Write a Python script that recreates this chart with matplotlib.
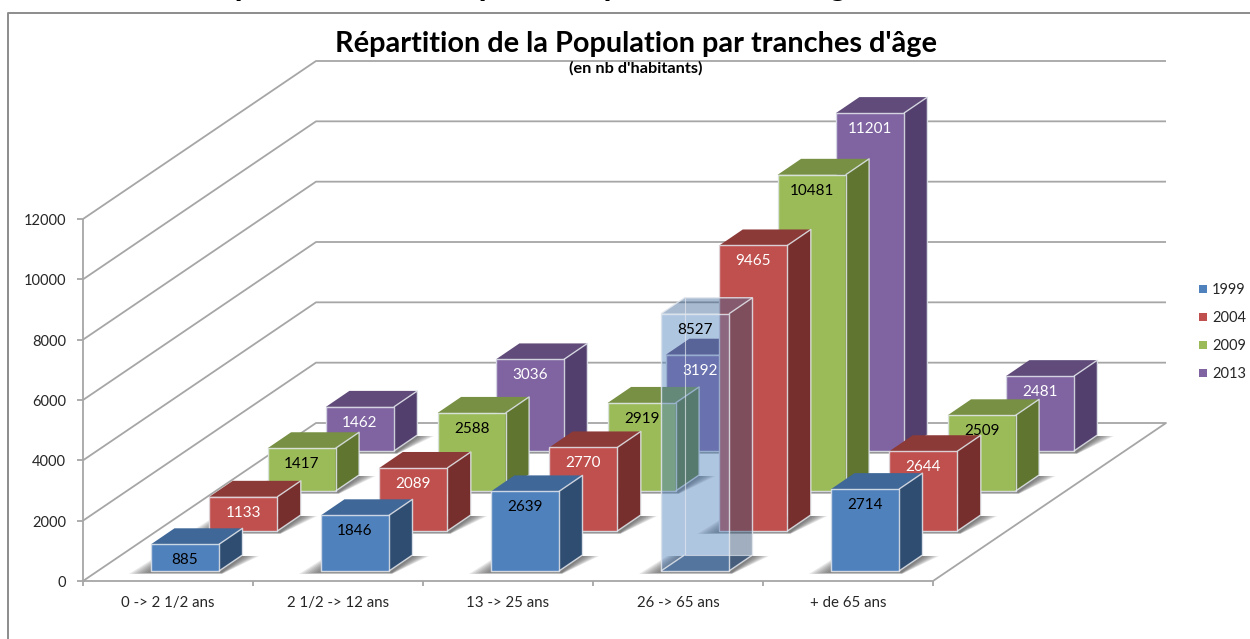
import matplotlib
matplotlib.use('Agg')
import matplotlib.pyplot as plt

# our data to plot
categories = ['0 -> 2 1/2 ans', '2 1/2 -> 12 ans', '13 -> 25 ans', '26 -> 65 ans', '+ de 65 ans']
years = ['1999', '2004', '2009', '2013']
values_1999 = [885, 1846, 2639, 8527, 2714]
values_2004 = [1133, 2089, 2770, 9465, 2644]
values_2009 = [1417, 2588, 2919, 10481, 2509]
values_2013 = [1462, 3036, 3192, 11201, 2481]
y_ticks = [0, 2000, 4000, 6000, 8000, 10000, 12000]

series = [values_1999, values_2004, values_2009, values_2013]

# front, top, side colours per year, then colour of the number
front_colors = ['#4F81BD', '#C0504D', '#9BBB59', '#8064A2']
top_colors = ['#3F6797', '#8C3A38', '#779043', '#604B7A']
side_colors = ['#2F4D71', '#772F2D', '#5F7530', '#523F6D']
label_colors = ['black', 'white', 'black', 'white']

plt.rcParams['font.family'] = ['Lato', 'DejaVu Sans']

# the axes are in picture pixels, the oblique projection sits on top of them
fig = plt.figure(figsize=(12.5, 6.39), dpi=100)
ax = fig.add_axes([0, 0, 1, 1])
ax.set_xlim(0, 1250)
ax.set_ylim(639, 0)
ax.axis('off')

X0, Y0 = 83, 581
CAT_W = 170
DEPTH_X, DEPTH_Y = 233, 158
PX_PER_UNIT = 362 / 12000
SLOT_X, SLOT_Y = 58.3, 40
BAR_W, SIDE_X, SIDE_Y = 68, 23.5, 16
GRID = '#A6A6A6'

# painter's order: everything gets a higher zorder than the thing before it
z = [1]


def next_z():
    z[0] += 1
    return z[0]


def line(xs, ys, lw=1.3, color=GRID, alpha=1.0):
    ax.plot(xs, ys, color=color, lw=lw, alpha=alpha, solid_capstyle='butt', zorder=next_z())


def face(xs, ys, color, alpha=1.0):
    ax.fill(xs, ys, color=color, alpha=alpha, lw=0, zorder=next_z())


# frame round the chart
line([8, 8, 1250], [639, 13, 13], lw=1.4, color='#8C8C8C')

# walls and floor
for t in y_ticks:
    y = Y0 - t * PX_PER_UNIT
    if t > 0:
        line([X0, X0 + DEPTH_X, X0 + DEPTH_X + CAT_W * 5], [y, y - DEPTH_Y, y - DEPTH_Y])
    line([X0 - 6, X0], [y, y])
    ax.text(66, y + 2, str(t), ha='right', va='center', fontsize=10.5, color='#262626', zorder=1000)
line([X0, X0], [Y0, Y0 - 12000 * PX_PER_UNIT])
line([X0, X0 + DEPTH_X, X0 + DEPTH_X + CAT_W * 5, X0 + CAT_W * 5, X0, X0],
     [Y0, Y0 - DEPTH_Y, Y0 - DEPTH_Y, Y0, Y0, Y0])
for i in range(len(categories) + 1):
    line([X0 + CAT_W * i] * 2, [Y0, Y0 + 5])
for i, name in enumerate(categories):
    ax.text(X0 + CAT_W * (i + 0.5), 603, name, ha='center', va='center', fontsize=10.8, color='#262626', zorder=1000)


def draw_shadow(x, y):
    # soft shadow on the floor, stacked shapes getting smaller
    for k in range(8):
        grow = 22 - k * 2.9
        face([x - grow, x + BAR_W + 3, x + BAR_W + SIDE_X + grow * 0.75, x + SIDE_X - 4 - grow * 0.6],
             [y + 3 - k * 0.2, y + 3 - k * 0.2, y - SIDE_Y + 1, y - SIDE_Y + 1],
             '#404040', alpha=0.12)


def draw_bar(x, y, h, s, alpha=1.0):
    top = y - h
    sx, sy = SIDE_X, SIDE_Y
    if alpha < 1:
        # the see-through bar also shows its floor
        face([x, x + BAR_W, x + BAR_W + sx, x + sx], [y, y, y - sy, y - sy], '#3F5F88', alpha=0.6)
    face([x, x + BAR_W, x + BAR_W, x], [top, top, y, y], front_colors[s], alpha)
    face([x + BAR_W, x + BAR_W + sx, x + BAR_W + sx, x + BAR_W], [top, top - sy, y - sy, y], side_colors[s], alpha)
    face([x, x + sx, x + BAR_W + sx, x + BAR_W], [top, top - sy, top - sy, top], top_colors[s], alpha)
    edge = '#E4E8EE'
    line([x, x + BAR_W, x + BAR_W, x, x], [top, top, y, y, top], lw=1, color=edge, alpha=0.85)
    line([x + BAR_W, x + BAR_W + sx, x + BAR_W + sx, x + BAR_W], [top, top - sy, y - sy, y], lw=1, color=edge, alpha=0.85)
    if alpha < 1:
        line([x, x + sx, x + BAR_W + sx], [top, top - sy, top - sy], lw=1, color=edge, alpha=0.85)
        line([x + sx, x + sx, x + BAR_W + sx], [top - sy, y - sy, y - sy], lw=0.8, color=edge, alpha=0.7)
        line([x, x + sx], [y, y - sy], lw=1, color=edge, alpha=0.85)


# paint from the back row to the front row
for s in range(len(series) - 1, -1, -1):
    for c, value in enumerate(series[s]):
        x = X0 + CAT_W * c + 68 + SLOT_X * s
        y = Y0 - 10 - SLOT_Y * s
        h = value * PX_PER_UNIT
        # the 26 -> 65 ans bar of 1999 is see-through in the original
        see_through = s == 0 and c == 3
        draw_shadow(x, y)
        draw_bar(x, y, h, s, alpha=0.45 if see_through else 1.0)

# the numbers stay on top of every bar
for s in range(len(series)):
    for c, value in enumerate(series[s]):
        x = X0 + CAT_W * c + 68 + SLOT_X * s
        y = Y0 - 10 - SLOT_Y * s
        ax.text(x + BAR_W / 2, y - value * PX_PER_UNIT + 16, str(value), ha='center', va='center',
                fontsize=11, color=label_colors[s], zorder=1000)

# legend
for s, year in enumerate(years):
    y = 289 + 28 * s
    face([1199, 1207, 1207, 1199], [y - 4, y - 4, y + 4, y + 4], front_colors[s])
    ax.text(1212, y + 1.5, year, ha='left', va='center', fontsize=10.5, color='#262626', zorder=1000)

# titles
ax.text(636, 44, "Répartition de la Population par tranches d'âge", ha='center', va='center',
        fontsize=20.8, fontweight='bold', color='black', zorder=1000)
ax.text(636, 68, "(en nb d'habitants)", ha='center', va='center',
        fontsize=11.7, fontweight='bold', color='black', zorder=1000)
# slide title above the chart, only its descenders are left in the picture
ax.text(530, -4.3, "Répartition de la Population par tranches d'âge", ha='center', va='baseline',
        fontsize=23, fontweight='bold', color='black', zorder=1000)

fig.savefig('out.png', dpi=100)
